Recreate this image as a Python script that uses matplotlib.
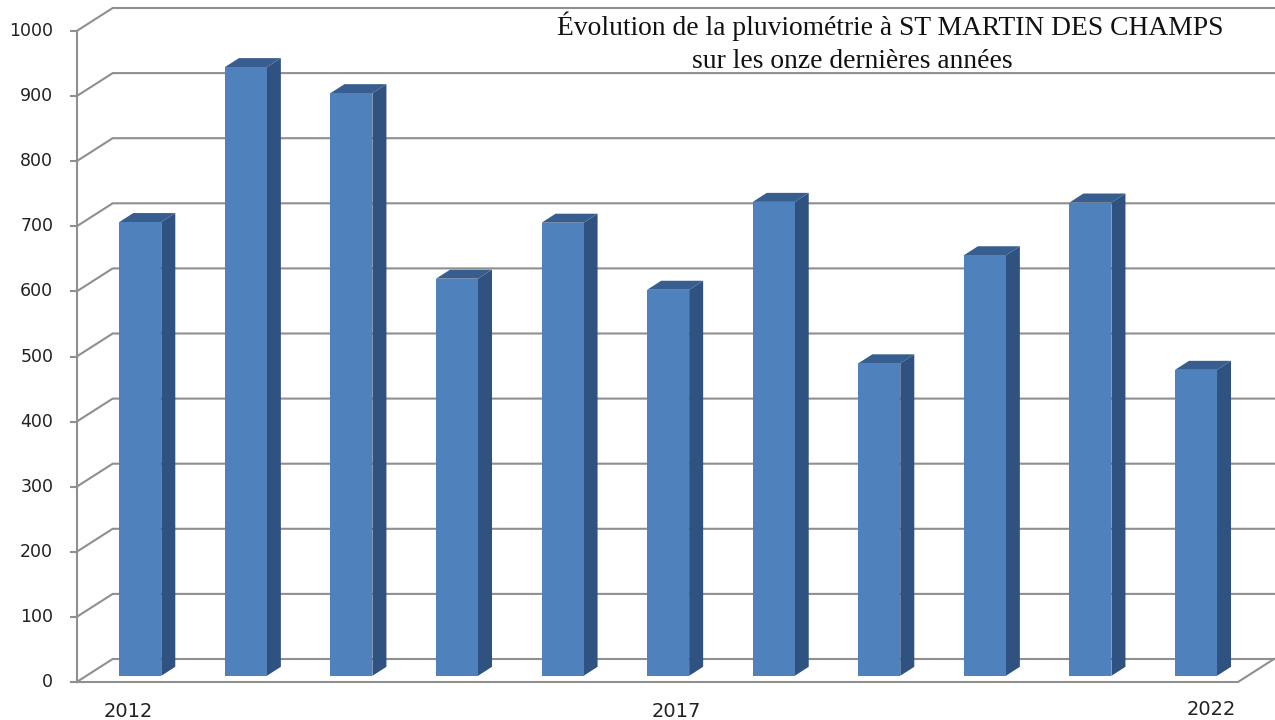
import matplotlib
matplotlib.use("Agg")
import matplotlib.pyplot as plt
from matplotlib.patches import Polygon

years = ["2012", "2013", "2014", "2015", "2016", "2017", "2018", "2019", "2020", "2021", "2022"]
rainfall = [697, 935, 895, 610, 696, 593, 728, 480, 646, 727, 470]
y_ticks = [0, 100, 200, 300, 400, 500, 600, 700, 800, 900, 1000]
shown_years = {"2012": (-1, 0), "2017": (19, 0), "2022": (26, 2)}
title_1 = "Évolution de la pluviométrie à ST MARTIN DES CHAMPS"
title_2 = "sur les onze dernières années"

W, H = 1275, 720
L, R, T, B = 76.7, 1238.0, 31.0, 682.0
fig = plt.figure(figsize=(W / 100, H / 100), dpi=100, facecolor="white")
ax = fig.add_axes([L / W, 1 - B / H, (R - L) / W, (B - T) / H])
ax.set_xlim(0, len(years))
ax.set_ylim(0, 1000)
ax.axis("off")

px_x = len(years) / (R - L)
px_y = 1000 / (B - T)
wall_dx, wall_dy = 36 * px_x, 23 * px_y
bar_w = 42 * px_x
shift_x, shift_y = 10.8 * px_x, 6.2 * px_y
depth_x, depth_y = 14 * px_x, 9 * px_y

GRID = "#8f8f8f"
FRONT, SIDE, TOP = "#4f81bd", "#2f5280", "#385e8f"
TXT = "#222222"
lw = 1.5
n = len(years)

# walls, grid, axis
for v in y_ticks:
    ax.plot([0, wall_dx, n + wall_dx], [v, v + wall_dy, v + wall_dy], color=GRID, lw=lw,
            clip_on=False, zorder=1, solid_joinstyle="miter")
    ax.plot([-6 * px_x, 0], [v, v], color=GRID, lw=lw, clip_on=False, zorder=1)
    ax.text(-23.5 * px_x, v, str(v), ha="right", va="center", fontsize=12.5, color=TXT,
            family="DejaVu Sans", clip_on=False)
ax.plot([0, 0], [0, 1000], color=GRID, lw=lw, clip_on=False, zorder=1)
ax.plot([0, n, n + wall_dx], [0, 0, wall_dy], color=GRID, lw=lw, clip_on=False, zorder=1)

# bars
for i, (year, v) in enumerate(zip(years, rainfall)):
    x0 = i + 0.5 + shift_x - bar_w / 2
    x1 = x0 + bar_w
    y0, y1 = shift_y, shift_y + v
    ax.add_patch(Polygon([(x0, y0), (x1, y0), (x1, y1), (x0, y1)], closed=True,
                         fc=FRONT, ec="none", clip_on=False, zorder=4))
    ax.add_patch(Polygon([(x1, y0), (x1 + depth_x, y0 + depth_y), (x1 + depth_x, y1 + depth_y), (x1, y1)],
                         closed=True, fc=SIDE, ec="none", clip_on=False, zorder=3))
    ax.add_patch(Polygon([(x0, y1), (x1, y1), (x1 + depth_x, y1 + depth_y), (x0 + depth_x, y1 + depth_y)],
                         closed=True, fc=TOP, ec="none", clip_on=False, zorder=3))
    if year in shown_years:
        ax.annotate(year, (i + 0.5, 0), xytext=(shown_years[year][0] * 0.72, -21 + shown_years[year][1] * 0.72),
                    textcoords="offset points", ha="center", va="center", fontsize=14, color=TXT,
                    family="DejaVu Sans", annotation_clip=False)

fig.text(890 / W, 1 - 35 / H, title_1, ha="center", va="baseline", fontsize=19.8,
         family="Liberation Serif", color="#111111")
fig.text(852.5 / W, 1 - 68 / H, title_2, ha="center", va="baseline", fontsize=19.8,
         family="Liberation Serif", color="#111111")

fig.savefig("out.png", dpi=100, facecolor="white")
